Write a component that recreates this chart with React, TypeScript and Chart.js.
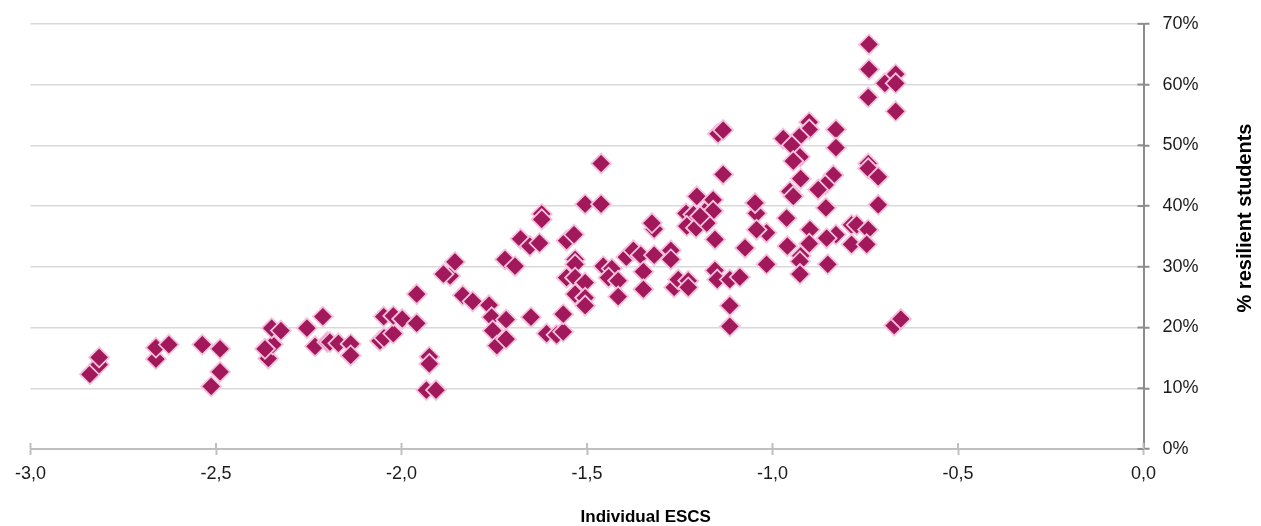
import { useEffect, useRef } from 'react';
import { Chart, registerables } from 'chart.js';

Chart.register(...registerables);

// Individual ESCS (x) of each group
const escs: number[] = [
  -2.84, -2.815, -2.815, -2.662, -2.662, -2.627, -2.537, -2.489, -2.489, -2.513,
  -2.359, -2.347, -2.368, -2.35, -2.325, -2.255, -2.233, -2.212, -2.2, -2.193,
  -2.17, -2.137, -2.137, -2.058, -2.047, -2.022, -2.048, -2.022, -1.998, -1.959,
  -1.959, -1.925, -1.925, -1.933, -1.907, -1.869, -1.887, -1.856, -1.835, -1.808,
  -1.764, -1.757, -1.718, -1.754, -1.743, -1.718, -1.721, -1.694, -1.679, -1.654,
  -1.628, -1.622, -1.622, -1.651, -1.609, -1.582, -1.564, -1.564, -1.555, -1.535,
  -1.505, -1.462, -1.462, -1.532, -1.532, -1.555, -1.532, -1.505, -1.532, -1.505,
  -1.505, -1.456, -1.433, -1.442, -1.416, -1.416, -1.394, -1.375, -1.355, -1.348,
  -1.348, -1.319, -1.319, -1.325, -1.274, -1.274, -1.265, -1.254, -1.227, -1.227,
  -1.233, -1.204, -1.213, -1.231, -1.206, -1.182, -1.16, -1.16, -1.177, -1.155,
  -1.133, -1.155, -1.149, -1.115, -1.088, -1.115, -1.115, -1.074, -1.043, -1.047,
  -1.016, -1.043, -1.016, -1.147, -1.133, -1.195, -0.74, -0.74, -0.697, -0.668,
  -0.668, -0.742, -0.668, -0.829, -0.829, -0.901, -0.901, -0.928, -0.971, -0.948,
  -0.926, -0.944, -0.924, -0.836, -0.858, -0.877, -0.742, -0.742, -0.715, -0.715,
  -0.953, -0.944, -0.962, -0.856, -0.899, -0.829, -0.854, -0.787, -0.773, -0.742,
  -0.787, -0.746, -0.96, -0.901, -0.924, -0.926, -0.926, -0.851, -0.672, -0.654,
];

// % resilient students (y) of each group
const resilientPct: number[] = [
  12.3, 13.9, 15.1, 14.8, 16.7, 17.2, 17.2, 16.5, 12.7, 10.3,
  14.9, 17.2, 16.5, 19.9, 19.5, 19.9, 16.9, 21.8, 17.6, 17.6,
  17.4, 17.3, 15.4, 17.8, 18.3, 19.0, 21.8, 21.9, 21.4, 25.5,
  20.7, 15.2, 14.0, 9.7, 9.7, 28.5, 28.8, 30.8, 25.3, 24.3,
  23.7, 21.7, 21.3, 19.5, 17.0, 18.1, 31.2, 30.1, 34.6, 33.4,
  33.9, 38.7, 37.8, 21.7, 19.0, 18.8, 19.3, 22.2, 34.3, 35.3,
  40.3, 40.3, 47.0, 31.2, 30.4, 28.2, 28.2, 27.4, 25.5, 24.9,
  23.6, 30.1, 29.7, 28.2, 27.7, 25.1, 31.6, 32.7, 31.9, 29.2,
  26.3, 31.9, 36.2, 37.2, 32.7, 31.2, 26.6, 27.9, 27.7, 26.6,
  38.8, 41.6, 38.6, 36.7, 36.4, 39.1, 41.0, 39.2, 37.2, 34.5,
  45.2, 29.4, 27.9, 27.9, 28.3, 23.6, 20.2, 33.1, 38.8, 40.5,
  35.6, 36.1, 30.4, 51.9, 52.5, 38.3, 66.6, 62.5, 60.2, 61.7,
  60.2, 57.9, 55.6, 52.6, 49.6, 53.8, 52.6, 51.4, 51.1, 50.0,
  48.1, 47.4, 44.5, 45.1, 43.5, 42.7, 47.0, 46.2, 44.8, 40.2,
  42.4, 41.6, 38.0, 39.7, 36.1, 35.3, 34.7, 36.9, 36.9, 36.1,
  33.7, 33.7, 33.4, 33.8, 31.8, 30.9, 28.8, 30.4, 20.3, 21.4,
];

const xTickValues: number[] = [-3, -2.5, -2, -1.5, -1, -0.5, 0];
const yTickValues: number[] = [0, 10, 20, 30, 40, 50, 60, 70];
const xTitle = 'Individual ESCS';
const yTitle = '% resilient students';

const FONT = "'Liberation Sans', Arial, sans-serif";

const innerTicks = {
  id: 'innerTicks',
  beforeDatasetsDraw(chart: any) {
    const { ctx, chartArea } = chart;
    const xs = chart.scales.x;
    const ys = chart.scales.y;
    ctx.save();
    ctx.lineWidth = 2;
    ctx.strokeStyle = '#8c8c8c';
    for (const v of yTickValues) {
      const py = ys.getPixelForValue(v);
      ctx.beginPath();
      ctx.moveTo(chartArea.right - 6, py);
      ctx.lineTo(chartArea.right, py);
      ctx.stroke();
    }
    ctx.strokeStyle = '#bfbfbf';
    for (const v of xTickValues) {
      const px = xs.getPixelForValue(v);
      ctx.beginPath();
      ctx.moveTo(px, chartArea.bottom - 6);
      ctx.lineTo(px, chartArea.bottom);
      ctx.stroke();
    }
    ctx.restore();
  },
};

const sideTitle = {
  id: 'sideTitle',
  afterDraw(chart: any) {
    const { ctx } = chart;
    ctx.save();
    ctx.translate(1245.5, 218);
    ctx.rotate(-Math.PI / 2);
    ctx.font = `bold 20px ${FONT}`;
    ctx.fillStyle = '#000000';
    ctx.textAlign = 'center';
    ctx.textBaseline = 'middle';
    ctx.fillText(yTitle, 0, 0);
    ctx.restore();
  },
};

export default function App() {
  const canvasRef = useRef<HTMLCanvasElement | null>(null);

  useEffect(() => {
    if (!canvasRef.current) return;
    Chart.defaults.font.family = FONT;
    const points = escs.map((x, i) => ({ x, y: resilientPct[i] }));
    const chart = new Chart(canvasRef.current, {
      type: 'scatter',
      data: {
        datasets: [
          {
            label: yTitle,
            data: points,
            pointStyle: 'rectRot',
            pointRadius: 10,
            pointHoverRadius: 10,
            pointBorderWidth: 1.8,
            backgroundColor: '#A2195B',
            borderColor: '#F4C2DE',
          },
        ],
      },
      options: {
        animation: false,
        responsive: true,
        maintainAspectRatio: false,
        layout: { padding: { left: 30.5, top: 20.5, right: 0, bottom: 0 } },
        plugins: {
          legend: { display: false },
          tooltip: { enabled: false },
          title: {
            display: true,
            text: xTitle,
            position: 'bottom',
            color: '#000000',
            font: { family: FONT, size: 17, weight: 'bold', lineHeight: 1 },
            padding: { top: 10, bottom: 0 },
          },
        },
        scales: {
          x: {
            type: 'linear',
            position: 'bottom',
            min: -3,
            max: 0,
            afterBuildTicks: (scale: any) => {
              scale.ticks = xTickValues.map((v) => ({ value: v }));
            },
            afterFit: (scale: any) => {
              scale.height = 50;
            },
            ticks: {
              autoSkip: false,
              maxRotation: 0,
              padding: 8,
              color: '#1a1a1a',
              font: { family: FONT, size: 18 },
              callback: (v: any) => Number(v).toFixed(1).replace('.', ','),
            },
            grid: {
              drawOnChartArea: false,
              drawTicks: true,
              tickLength: 6,
              tickColor: '#bfbfbf',
              tickWidth: 2,
            },
            border: { display: true, color: '#bfbfbf', width: 2 },
          },
          y: {
            type: 'linear',
            position: 'right',
            min: 0,
            max: 70,
            afterBuildTicks: (scale: any) => {
              scale.ticks = yTickValues.map((v) => ({ value: v }));
            },
            afterFit: (scale: any) => {
              scale.width = 117.5;
            },
            ticks: {
              padding: 13,
              color: '#1a1a1a',
              font: { family: FONT, size: 18 },
              callback: (v: any) => `${v}%`,
            },
            grid: {
              color: '#d9d9d9',
              lineWidth: 1.5,
              drawTicks: true,
              tickLength: 6,
              tickColor: '#8c8c8c',
              tickWidth: 2,
            },
            border: { display: true, color: '#8c8c8c', width: 2 },
          },
        },
      },
      plugins: [innerTicks, sideTitle],
    });
    return () => chart.destroy();
  }, []);

  return (
    <div style={{ position: 'fixed', left: 0, top: 0, width: 1261, height: 526, background: '#ffffff' }}>
      <canvas ref={canvasRef} />
    </div>
  );
}
